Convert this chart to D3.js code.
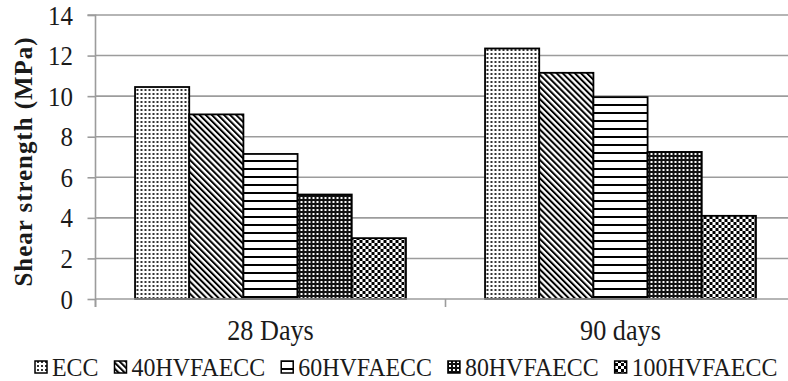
<!DOCTYPE html>
<html><head><meta charset="utf-8">
<script src="https://cdn.jsdelivr.net/npm/d3@7"></script>
<style>body{margin:0;background:#fff}svg{display:block}</style>
</head><body>
<script>
const categories = ["28 Days", "90 days"];
const series = ["ECC", "40HVFAECC", "60HVFAECC", "80HVFAECC", "100HVFAECC"];
const values28 = [10.45, 9.1, 7.15, 5.15, 3.0];
const values90 = [12.35, 11.15, 9.95, 7.25, 4.1];
const yTicks = [0, 2, 4, 6, 8, 10, 12, 14];
const yTitle = "Shear strength (MPa)";

const data = categories.map((c, i) => ({cat: c, vals: series.map((s, j) => ({s, v: [values28, values90][i][j]}))}));

const W = 788, H = 381;
const svg = d3.select("body").append("svg").attr("width", W).attr("height", H);
const defs = svg.append("defs");

// patterns
const pDot = defs.append("pattern").attr("id", "p0").attr("patternUnits", "userSpaceOnUse").attr("width", 4).attr("height", 4);
pDot.append("rect").attr("width", 4).attr("height", 4).attr("fill", "#fff");
pDot.append("rect").attr("x", 1).attr("y", 1).attr("width", 2).attr("height", 2).attr("fill", "#333");

const pDiag = defs.append("pattern").attr("id", "p1").attr("patternUnits", "userSpaceOnUse").attr("width", 4.3).attr("height", 8).attr("patternTransform", "rotate(-45)");
pDiag.append("rect").attr("width", 4.3).attr("height", 8).attr("fill", "#fff");
pDiag.append("rect").attr("x", 0).attr("width", 2).attr("height", 8).attr("fill", "#000");

const pHor = defs.append("pattern").attr("id", "p2").attr("patternUnits", "userSpaceOnUse").attr("width", 8).attr("height", 8);
pHor.append("rect").attr("width", 8).attr("height", 8).attr("fill", "#fff");
pHor.append("rect").attr("y", 0).attr("width", 8).attr("height", 2).attr("fill", "#000");

const pInv = defs.append("pattern").attr("id", "p3").attr("patternUnits", "userSpaceOnUse").attr("width", 4).attr("height", 4);
pInv.append("rect").attr("width", 4).attr("height", 4).attr("fill", "#111");
pInv.append("rect").attr("x", 1).attr("y", 1).attr("width", 2).attr("height", 2).attr("fill", "#fff");

const pChk = defs.append("pattern").attr("id", "p4").attr("patternUnits", "userSpaceOnUse").attr("width", 6).attr("height", 6);
pChk.append("rect").attr("width", 6).attr("height", 6).attr("fill", "#fff");
pChk.append("rect").attr("x", 0).attr("y", 0).attr("width", 3).attr("height", 3).attr("fill", "#000");
pChk.append("rect").attr("x", 3).attr("y", 3).attr("width", 3).attr("height", 3).attr("fill", "#000");

const fills = d3.scaleOrdinal().domain(series).range(["url(#p0)", "url(#p1)", "url(#p2)", "url(#p3)", "url(#p4)"]);

const x0 = d3.scaleBand().domain(categories).range([95.5, 795.5]).paddingInner(0).paddingOuter(0);
const x1 = d3.scaleBand().domain(series).range([0, x0.bandwidth()]).paddingInner(0).paddingOuter(0.73);
const y = d3.scaleLinear().domain([0, 14]).range([299, 15]);

const font = "'Liberation Serif', 'Times New Roman', serif";
const gridC = "#9c9c9c";
const txtC = "#1a1a1a";

// gridlines
svg.append("g").selectAll("line").data(yTicks.filter(t => t > 0)).join("line")
  .attr("x1", 95.5).attr("x2", W).attr("y1", d => y(d)).attr("y2", d => y(d))
  .attr("stroke", gridC).attr("stroke-width", 1.6);

// y axis
const ya = svg.append("g").attr("transform", "translate(95.5,0)")
  .call(d3.axisLeft(y).tickValues(yTicks).tickSize(8).tickPadding(14).tickFormat(d3.format("d")));
ya.select(".domain").attr("stroke", gridC).attr("stroke-width", 1.6).attr("d", `M-8,${y(14)}H0V${y(0)+8}`);
ya.selectAll(".tick line").attr("stroke", gridC).attr("stroke-width", 1.6);
ya.selectAll(".tick text").attr("font-family", font).attr("font-size", 26.5).attr("fill", txtC)
  .attr("x", 0).attr("dy", "0.34em").attr("transform", "translate(-22.5,0) scale(0.94,1)");

// bars
const g = svg.append("g");
const groups = g.selectAll("g").data(data).join("g").attr("transform", d => `translate(${x0(d.cat)},0)`);
groups.selectAll("rect").data(d => d.vals).join("rect")
  .attr("x", d => x1(d.s)).attr("width", x1.bandwidth())
  .attr("y", d => y(d.v)).attr("height", d => y(0) - y(d.v))
  .attr("fill", d => fills(d.s)).attr("stroke", "#000").attr("stroke-width", 1.8);

// x axis
const xa = svg.append("g").attr("transform", `translate(0,${y(0)})`);
xa.append("line").attr("x1", 95.5).attr("x2", W).attr("stroke", gridC).attr("stroke-width", 1.6);
const bounds = categories.map(c => x0(c)).concat([x0(categories[categories.length-1]) + x0.bandwidth()]);
xa.selectAll("line.tk").data(bounds).join("line").attr("class", "tk")
  .attr("x1", d => d).attr("x2", d => d).attr("y1", 0).attr("y2", 8)
  .attr("stroke", gridC).attr("stroke-width", 1.6);
const xl = svg.append("g").attr("transform", `translate(0,${y(0)})`)
  .call(d3.axisBottom(x0).tickSize(0).tickPadding(0));
xl.select(".domain").remove();
xl.selectAll(".tick text").attr("font-family", font).attr("font-size", 28.5).attr("fill", txtC)
  .attr("dy", null).attr("y", 0).attr("transform", "translate(0,41) scale(0.92,1)");

// y title
svg.append("text").attr("transform", "translate(32,162) rotate(-90)")
  .attr("text-anchor", "middle").attr("font-family", font).attr("font-weight", "bold")
  .attr("font-size", 25).attr("fill", txtC)
  .attr("textLength", 249).attr("lengthAdjust", "spacing").text(yTitle);

// legend
const leg = svg.append("g");
let lx = 35;
const sx = 0.92;
series.forEach((s, i) => {
  leg.append("rect").attr("x", lx).attr("y", 361).attr("width", 12).attr("height", 12)
    .attr("fill", fills(s)).attr("stroke", "#000").attr("stroke-width", 1.5);
  const t = leg.append("text").attr("transform", `translate(${lx + 17},376) scale(${sx},1)`)
    .attr("font-family", font).attr("font-size", 26).attr("fill", txtC).text(s);
  lx += 17 + t.node().getComputedTextLength() * sx + 16;
});
</script>
</body></html>
